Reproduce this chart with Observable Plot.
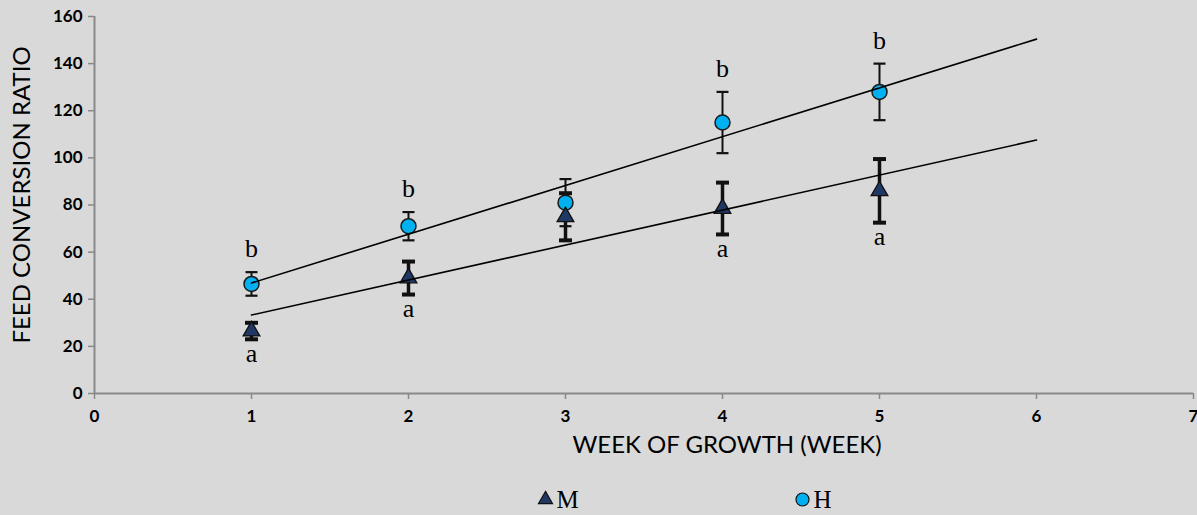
<!DOCTYPE html>
<html>
<head>
<meta charset="utf-8">
<script src="https://cdn.jsdelivr.net/npm/d3@7"></script>
<script src="https://cdn.jsdelivr.net/npm/@observablehq/plot@0.6"></script>
<style>
  html, body { margin: 0; padding: 0; background: #d9d9d9; }
  #chart { width: 1197px; height: 515px; }
</style>
</head>
<body>
<div id="chart"></div>
<script>
// ---- data ----
const weeks = [1, 2, 3, 4, 5];
const seriesNames = ["M", "H"];
const mValues = [26.5, 49, 75, 78.5, 86];
const mErrors = [3.5, 7, 10, 11, 13.5];
const hValues = [46.5, 71, 81, 115, 128];
const hErrors = [5, 6, 10, 13, 12];
const mLetters = ["a", "a", "", "a", "a"];
const hLetters = ["b", "b", "", "b", "b"];
const xTicks = [0, 1, 2, 3, 4, 5, 6, 7];
const yTicks = [0, 20, 40, 60, 80, 100, 120, 140, 160];
const trendForecastEnd = 6;
const xTitle = "WEEK OF GROWTH (WEEK)";
const yTitle = "FEED CONVERSION RATIO";

const colM = "#1f3864";
const colH = "#00b0f0";
const axisGray = "#898989";

const mRows = weeks.map((w, i) => ({week: w, value: mValues[i], err: mErrors[i], letter: mLetters[i]}));
const hRows = weeks.map((w, i) => ({week: w, value: hValues[i], err: hErrors[i], letter: hLetters[i]}));

function fit(rows) {
  const mx = d3.mean(rows, d => d.week), my = d3.mean(rows, d => d.value);
  const sxy = d3.sum(rows, d => (d.week - mx) * (d.value - my));
  const sxx = d3.sum(rows, d => (d.week - mx) ** 2);
  const b = sxy / sxx, a = my - b * mx;
  const x0 = d3.min(rows, d => d.week);
  return [{week: x0, value: a + b * x0}, {week: trendForecastEnd, value: a + b * trendForecastEnd}];
}
const mTrend = fit(mRows), hTrend = fit(hRows);

const capSymbol = (half) => ({
  draw(ctx, size) { ctx.moveTo(-half, 0); ctx.lineTo(half, 0); }
});

const serif = "'Liberation Serif', 'Times New Roman', serif";

const plot = Plot.plot({
  width: 1197,
  height: 515,
  marginLeft: 94,
  marginRight: 4,
  marginTop: 16,
  marginBottom: 122,
  style: {background: "#d9d9d9", fontFamily: "Lato, 'Open Sans', sans-serif", fontSize: "17px", color: "black"},
  x: {domain: [0, 7]},
  y: {domain: [0, 160]},
  marks: [
    Plot.ruleY([0], {stroke: axisGray, strokeWidth: 2}),
    Plot.ruleX([0], {stroke: axisGray, strokeWidth: 2}),
    Plot.axisX({ticks: xTicks, tickSize: 6, tickPadding: 10, stroke: axisGray, strokeWidth: 1.5, fill: "black", fontWeight: "bold", label: null, tickFormat: d => d}),
    Plot.axisY({ticks: yTicks, tickSize: 6, tickPadding: 6, stroke: axisGray, strokeWidth: 1.5, fill: "black", fontWeight: "bold", label: null, tickFormat: d => d}),
    // error bars H (thin)
    Plot.ruleX(hRows, {x: "week", y1: d => d.value - d.err, y2: d => d.value + d.err, stroke: "#111", strokeWidth: 2}),
    Plot.dot(hRows, {x: "week", y: d => d.value + d.err, symbol: capSymbol(6), stroke: "#111", strokeWidth: 2.2, r: 6}),
    Plot.dot(hRows, {x: "week", y: d => d.value - d.err, symbol: capSymbol(6), stroke: "#111", strokeWidth: 2.2, r: 6}),
    // error bars M (thick)
    Plot.ruleX(mRows, {x: "week", y1: d => d.value - d.err, y2: d => d.value + d.err, stroke: "#111", strokeWidth: 3.5}),
    Plot.dot(mRows, {x: "week", y: d => d.value + d.err, symbol: capSymbol(6.5), stroke: "#111", strokeWidth: 4, r: 6}),
    Plot.dot(mRows, {x: "week", y: d => d.value - d.err, symbol: capSymbol(6.5), stroke: "#111", strokeWidth: 4, r: 6}),
    // markers
    Plot.dot(hRows, {x: "week", y: "value", r: 7.5, fill: colH, stroke: "#1a1a1a", strokeWidth: 1.5}),
    Plot.dot(mRows, {x: "week", y: "value", r: 6.2, symbol: "triangle", fill: colM, stroke: "#111", strokeWidth: 1.3}),
    // trend lines
    Plot.line(hTrend, {x: "week", y: "value", stroke: "black", strokeWidth: 1.6}),
    Plot.line(mTrend, {x: "week", y: "value", stroke: "black", strokeWidth: 1.6}),
    // significance letters
    Plot.text(hRows.filter(d => d.letter), {x: "week", y: d => d.value + d.err, text: "letter", dy: -23, fontFamily: serif, fontSize: 26, fill: "black"}),
    Plot.text(mRows.filter(d => d.letter), {x: "week", y: d => d.value - d.err, text: "letter", dy: 14, fontFamily: serif, fontSize: 26, fill: "black"}),
    // axis titles
    Plot.text([xTitle], {frameAnchor: "bottom", lineAnchor: "middle", dx: 83, dy: 52, fontSize: 24, fill: "black"}),
    Plot.text([yTitle], {frameAnchor: "left", textAnchor: "middle", lineAnchor: "middle", dx: -72, dy: -10, rotate: -90, fontSize: 24, fill: "black"}),
    // legend
    Plot.dot([seriesNames[0]], {frameAnchor: "bottom-left", dx: 451, dy: 106, symbol: "triangle", r: 5.2, fill: colM, stroke: "#111", strokeWidth: 1.2}),
    Plot.text([seriesNames[0]], {frameAnchor: "bottom-left", dx: 462, dy: 106, textAnchor: "start", lineAnchor: "middle", fontFamily: serif, fontSize: 25, fill: "black", text: d => d}),
    Plot.dot([seriesNames[1]], {frameAnchor: "bottom-left", dx: 708, dy: 106, r: 6.5, fill: colH, stroke: "#111", strokeWidth: 1.2}),
    Plot.text([seriesNames[1]], {frameAnchor: "bottom-left", dx: 719, dy: 106, textAnchor: "start", lineAnchor: "middle", fontFamily: serif, fontSize: 25, fill: "black", text: d => d})
  ]
});
document.getElementById("chart").appendChild(plot);
</script>
</body>
</html>
